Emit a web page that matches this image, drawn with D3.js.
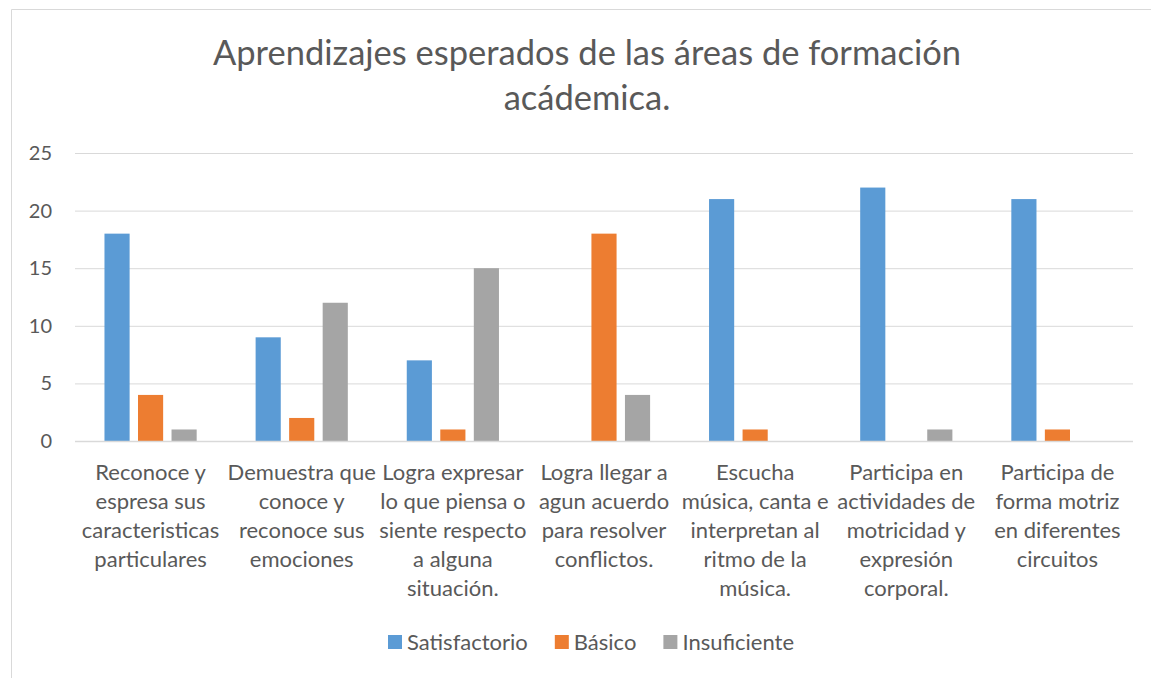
<!DOCTYPE html>
<html>
<head>
<meta charset="utf-8">
<script src="https://cdn.jsdelivr.net/npm/d3@7"></script>
<style>
  body { margin: 0; background: #fff; }
  svg { font-family: Lato, "Open Sans", sans-serif; }
</style>
</head>
<body>
<svg id="chart" width="1151" height="678"></svg>
<script>
// chart data
const categories = [
  ['Reconoce y', 'espresa sus', 'caracteristicas', 'particulares'],
  ['Demuestra que', 'conoce y', 'reconoce sus', 'emociones'],
  ['Logra expresar', 'lo que piensa o', 'siente respecto', 'a alguna', 'situación.'],
  ['Logra llegar a', 'agun acuerdo', 'para resolver', 'conflictos.'],
  ['Escucha', 'música, canta e', 'interpretan al', 'ritmo de la', 'música.'],
  ['Participa en', 'actividades de', 'motricidad y', 'expresión', 'corporal.'],
  ['Participa de', 'forma motriz', 'en diferentes', 'circuitos']
];
const seriesNames = ['Satisfactorio', 'Básico', 'Insuficiente'];
const satisfactorio = [18, 9, 7, 0, 21, 22, 21];
const basico = [4, 2, 1, 18, 1, 0, 1];
const insuficiente = [1, 12, 15, 4, 0, 1, 0];
const yTicks = [0, 5, 10, 15, 20, 25];
const titleLines = ['Aprendizajes esperados de las áreas de formación', 'acádemica.'];

const colors = ['#5B9BD5', '#ED7D31', '#A5A5A5'];
const textColor = '#595959';
const seriesValues = [satisfactorio, basico, insuficiente];

const margin = { top: 153, right: 18, bottom: 237, left: 75 };
const width = 1151;
const height = 678;
const plotW = width - margin.left - margin.right;
const plotH = height - margin.top - margin.bottom;

const svg = d3.select('#chart');

// outer chart frame (only top and left edges fall inside the picture)
svg.append('path')
  .attr('d', 'M11.5,678 L11.5,9.5 L1151,9.5')
  .attr('fill', 'none')
  .attr('stroke', '#D9D9D9')
  .attr('stroke-width', 1);

// title
svg.append('text')
  .attr('x', 587)
  .attr('y', 65)
  .attr('text-anchor', 'middle')
  .attr('fill', textColor)
  .style('font-size', '34.5px')
  .selectAll('tspan')
  .data(titleLines)
  .join('tspan')
  .attr('x', 587)
  .attr('dy', (d, i) => i === 0 ? 0 : 45)
  .text(d => d);

const g = svg.append('g').attr('transform', `translate(${margin.left},${margin.top})`);

const y = d3.scaleLinear().domain([0, 25]).range([plotH, 0]);

const x0 = d3.scaleBand()
  .domain(d3.range(categories.length))
  .range([0, plotW])
  .paddingInner(0.39)
  .paddingOuter(0.195);

const x1 = d3.scaleBand()
  .domain(d3.range(seriesNames.length))
  .range([0, x0.bandwidth()])
  .paddingInner(0.25);

// gridlines + y labels via axis
const yAxis = d3.axisLeft(y).tickValues(yTicks).tickSize(-plotW).tickPadding(23);
g.append('g')
  .attr('class', 'y axis')
  .call(yAxis)
  .call(sel => sel.select('.domain').remove())
  .call(sel => sel.selectAll('.tick line').attr('stroke', '#D9D9D9'))
  .call(sel => sel.selectAll('.tick text')
    .attr('fill', textColor)
    .style('font-size', '20px')
    .style('font-family', 'Lato, "Open Sans", sans-serif'));

// bars
const groups = g.selectAll('.cat')
  .data(categories.map((c, i) => i))
  .join('g')
  .attr('class', 'cat')
  .attr('transform', i => `translate(${x0(i)},0)`);

groups.selectAll('rect')
  .data(i => seriesValues.map((vals, s) => ({ s, v: vals[i] })))
  .join('rect')
  .attr('x', d => x1(d.s))
  .attr('width', x1.bandwidth())
  .attr('y', d => y(d.v))
  .attr('height', d => plotH - y(d.v))
  .attr('fill', d => colors[d.s]);

// baseline drawn over the bars
g.append('line')
  .attr('x1', 0).attr('x2', plotW)
  .attr('y1', plotH + 0.5).attr('y2', plotH + 0.5)
  .attr('stroke', '#D9D9D9')
  .attr('stroke-width', 1.5);

// category labels (multi-line)
const xAxis = d3.axisBottom(x0).tickSize(0).tickFormat('');
const xg = g.append('g')
  .attr('transform', `translate(0,${plotH})`)
  .call(xAxis)
  .call(sel => sel.select('.domain').remove());

xg.selectAll('.tick')
  .append('text')
  .attr('text-anchor', 'middle')
  .attr('fill', textColor)
  .style('font-size', '22px')
  .style('font-family', 'Lato, "Open Sans", sans-serif')
  .selectAll('tspan')
  .data(i => categories[i])
  .join('tspan')
  .attr('x', 0)
  .attr('y', (d, k) => 39 + k * 29)
  .text(d => d);

// legend
const legend = svg.append('g').attr('transform', 'translate(0,643)');
let lx = 388;
seriesNames.forEach((name, s) => {
  legend.append('rect')
    .attr('x', lx).attr('y', -8)
    .attr('width', 14).attr('height', 14)
    .attr('fill', colors[s]);
  const t = legend.append('text')
    .attr('x', lx + 19)
    .attr('y', 7)
    .attr('fill', textColor)
    .style('font-size', '22px')
    .text(name);
  lx += 19 + t.node().getComputedTextLength() + 27;
});
</script>
</body>
</html>
